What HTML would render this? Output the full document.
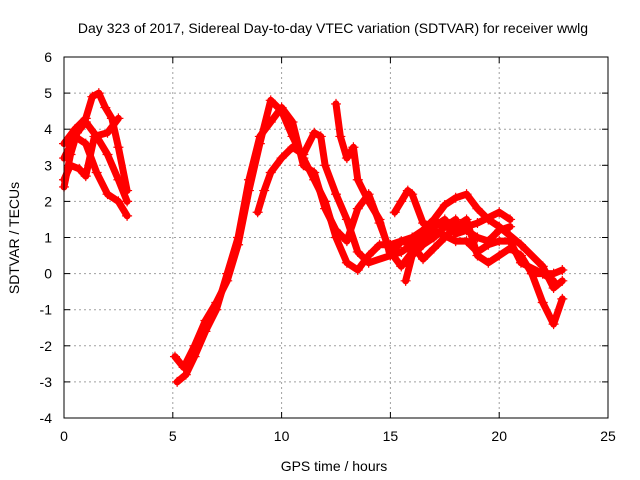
<!DOCTYPE html>
<html><head><meta charset="utf-8"><style>
body{margin:0;background:#fff}
svg{display:block;font-family:"Liberation Sans",sans-serif}
</style></head><body>
<svg id="chart" width="640" height="480">
<text x="333" y="33" text-anchor="middle" font-size="14">Day 323 of 2017, Sidereal Day-to-day VTEC variation (SDTVAR) for receiver wwlg</text>
<text x="334" y="471" text-anchor="middle" font-size="14">GPS time / hours</text>
<text transform="translate(19,238) rotate(-90)" text-anchor="middle" font-size="14">SDTVAR / TECUs</text>
<g id="grid"></g><g id="ticks"></g><g id="series"></g>
<rect x="64" y="57" width="544" height="361" fill="none" stroke="#000" stroke-width="1"/>
</svg>
<script>
const xTicks=[0,5,10,15,20,25];
const yTicks=[-4,-3,-2,-1,0,1,2,3,4,5,6];
const trackA_t=[0,0.3,0.6,1,1.5,2,2.5,2.9];
const trackA_v=[2.4,3.3,3.9,4.2,3.8,3.3,2.6,2.0];
const trackB_t=[0,0.5,1,1.3,1.6,1.9,2.2,2.5,2.9];
const trackB_v=[3.6,4.0,4.3,4.9,5.0,4.6,4.3,3.5,2.3];
const trackC_t=[0,0.3,0.7,1,1.4,2,2.5];
const trackC_v=[2.6,3.0,2.9,2.7,3.8,3.9,4.3];
const trackD_t=[0,0.5,1,1.5,2,2.5,2.9];
const trackD_v=[3.2,3.8,3.6,2.8,2.2,2.0,1.6];
const trackE_t=[5.1,5.5,6,6.5,7,7.5,8,8.5,9,9.5,10,10.5,11,11.5,12,12.5,13,13.5,14,14.5,15,16,17,18,19,20,20.5];
const trackE_v=[-2.3,-2.6,-2,-1.3,-0.8,-0.2,0.8,2.3,3.6,4.8,4.5,3.8,3.2,2.6,2.0,1.0,0.3,0.1,0.5,0.8,0.8,1.0,1.4,1.2,1.4,1.7,1.5];
const trackF_t=[5.2,5.6,6,6.5,7,7.5,8,8.5,9,9.5,10,10.5,11,11.5,12,12.5,13,13.5,14,14.5,15,15.5,16,16.5,17,17.5,18,18.5,19,19.5,20,21,22,22.5,22.9];
const trackF_v=[-3.0,-2.8,-2.3,-1.6,-1.0,0,1.0,2.6,3.8,4.2,4.6,4.2,3.0,2.8,1.8,1.2,0.9,1.8,2.2,1.4,0.6,0.2,0.6,1.2,1.5,1.9,2.1,2.2,1.8,1.5,1.3,0.8,0.2,-0.4,-0.2];
const trackG_t=[8.9,9.2,9.5,10,10.5,11,11.5,11.8,12,12.5,13,13.5,14,15,15.5,16,17,18,18.5,19,19.5,20,20.5,21,22,22.5];
const trackG_v=[1.7,2.3,2.8,3.2,3.5,3.3,3.9,3.8,3.0,2.2,1.5,0.6,0.3,0.5,0.6,0.8,1.2,0.9,0.9,0.6,0.8,0.9,0.9,0.3,0,-0.2];
const trackH_t=[12.5,12.7,13,13.3,13.5,14,14.5,15,15.5,16,16.5,17,17.5,18,18.5,19,19.5,20,20.5,21,21.5,22,22.5,22.9];
const trackH_v=[4.7,3.8,3.2,3.5,2.6,2.0,1.5,0.5,0.9,0.8,0.4,0.7,1.0,1.3,1.5,0.5,0.3,0.5,0.7,0.5,0,-0.8,-1.4,-0.7];
const trackI_t=[15.2,15.5,15.8,16,16.5,17,17.5,18,18.5,19,19.5,20,20.5];
const trackI_v=[1.7,2.0,2.3,2.2,1.4,1.3,1.5,1.1,1.2,1.0,0.9,1.2,1.3];
const trackJ_t=[15.7,16,16.5,17,17.5,18];
const trackJ_v=[-0.2,0.5,0.8,1.0,1.3,1.5];
const trackK_t=[21.5,22,22.5,22.9];
const trackK_v=[0,0,0,0.1];
const tracks=[[trackA_t,trackA_v],[trackB_t,trackB_v],[trackC_t,trackC_v],[trackD_t,trackD_v],[trackE_t,trackE_v],[trackF_t,trackF_v],[trackG_t,trackG_v],[trackH_t,trackH_v],[trackI_t,trackI_v],[trackJ_t,trackJ_v],[trackK_t,trackK_v]];

const NS='http://www.w3.org/2000/svg';
const X=h=>64+h*(544/25);
const Y=v=>418-(v+4)*36.1;
function mk(tag,attrs,parent){const e=document.createElementNS(NS,tag);for(const k in attrs)e.setAttribute(k,attrs[k]);parent.appendChild(e);return e;}
const grid=document.getElementById('grid'),ticks=document.getElementById('ticks'),series=document.getElementById('series');
xTicks.forEach(t=>{
  if(t>0&&t<25){const g=mk('line',{x1:X(t),x2:X(t),y1:57,y2:418,stroke:'#a0a0a0','stroke-dasharray':'2,3'},grid);
  
  }
  mk('line',{x1:X(t),x2:X(t),y1:418,y2:412,stroke:'#000'},ticks);
  mk('line',{x1:X(t),x2:X(t),y1:57,y2:63,stroke:'#000'},ticks);
  const l=mk('text',{x:X(t),y:441,'text-anchor':'middle','font-size':14},ticks);l.textContent=t;
  
  
});
yTicks.forEach(t=>{
  if(t>-4&&t<6){const g=mk('line',{x1:64,x2:608,y1:Y(t),y2:Y(t),stroke:'#a0a0a0','stroke-dasharray':'2,3'},grid);
  
  }
  mk('line',{x1:64,x2:70,y1:Y(t),y2:Y(t),stroke:'#000'},ticks);
  mk('line',{x1:602,x2:608,y1:Y(t),y2:Y(t),stroke:'#000'},ticks);
  const l=mk('text',{x:52,y:Y(t)+5,'text-anchor':'end','font-size':14},ticks);l.textContent=t;
  
  
});
tracks.forEach((tr,i)=>{
  const pts=tr[0].map((t,j)=>X(t)+','+Y(tr[1][j])).join(' ');
  const p=mk('polyline',{points:pts,fill:'none',stroke:'#ff0000','stroke-width':7,'stroke-linejoin':'round','stroke-linecap':'round'},series);
  
  
  tr[0].forEach((t,j)=>{
    const x=X(t),y=Y(tr[1][j]);
    const m=mk('path',{d:`M${x-5},${y}H${x+5}M${x},${y-5}V${y+5}`,stroke:'#ff0000','stroke-width':1.2},series);
    
    
  });
});
</script>
</body></html>
